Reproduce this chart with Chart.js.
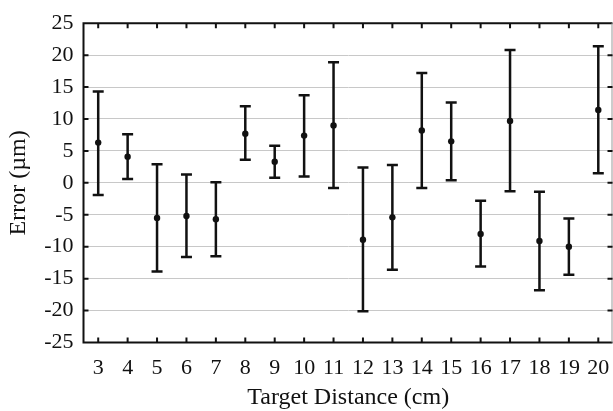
<!DOCTYPE html>
<html>
<head>
<meta charset="utf-8">
<script src="https://cdn.jsdelivr.net/npm/chart.js@4"></script>
<style>
  html, body { margin: 0; padding: 0; background: #fff; overflow: hidden; }
  /* a few px wider than the window: the plot frame runs to the right edge */
  #wrap { width: 617px; height: 411px; }
</style>
</head>
<body>
<div id="wrap"><canvas id="errChart"></canvas></div>
<script>
// Target distance (cm) and measured error (µm): mean with upper / lower limits
const distances = ['3', '4', '5', '6', '7', '8', '9', '10', '11', '12', '13', '14', '15', '16', '17', '18', '19', '20'];
const meanError = [6.3, 4.1, -5.5, -5.2, -5.7, 7.7, 3.3, 7.4, 9.0, -8.9, -5.4, 8.2, 6.5, -8.0, 9.7, -9.1, -10.0, 11.4];
const upperError = [14.3, 7.6, 2.9, 1.3, 0.1, 12.0, 5.8, 13.7, 18.9, 2.4, 2.8, 17.2, 12.6, -2.8, 20.8, -1.4, -5.6, 21.4];
const lowerError = [-1.9, 0.6, -13.9, -11.6, -11.5, 3.6, 0.8, 1.0, -0.8, -20.1, -13.6, -0.8, 0.4, -13.1, -1.3, -16.8, -14.4, 1.5];
const yMin = -25;
const yMax = 25;
const yStep = 5;

const INK = '#111';
const SERIF = '"Liberation Serif", "Times New Roman", serif';
const TICK_FONT = { family: SERIF, size: 22 };
const TITLE_FONT = { family: SERIF, size: 24, lineHeight: 1 };

// whiskers with caps, drawn under the mean points
const errorBars = {
  id: 'errorBars',
  beforeDatasetsDraw(chart) {
    const { ctx, scales: { x, y } } = chart;
    ctx.save();
    ctx.strokeStyle = INK;
    ctx.lineWidth = 2.5;
    ctx.lineCap = 'butt';
    distances.forEach((d, i) => {
      const px = x.getPixelForValue(i);
      const top = y.getPixelForValue(upperError[i]);
      const bot = y.getPixelForValue(lowerError[i]);
      ctx.beginPath();
      ctx.moveTo(px, top);
      ctx.lineTo(px, bot);
      ctx.moveTo(px - 5.5, top);
      ctx.lineTo(px + 5.5, top);
      ctx.moveTo(px - 5.5, bot);
      ctx.lineTo(px + 5.5, bot);
      ctx.stroke();
    });
    ctx.restore();
  }
};

// plot frame with inward tick marks on all four sides
const frame = {
  id: 'frame',
  afterDraw(chart) {
    const { ctx, chartArea: a, scales: { x, y } } = chart;
    const right = a.right - 0.5;
    ctx.save();
    ctx.strokeStyle = INK;
    ctx.lineWidth = 2;
    ctx.beginPath();
    ctx.moveTo(right, a.top);
    ctx.lineTo(a.left, a.top);
    ctx.lineTo(a.left, a.bottom);
    ctx.lineTo(right, a.bottom);
    ctx.stroke();
    ctx.strokeStyle = '#999';
    ctx.lineWidth = 1;
    ctx.beginPath();
    ctx.moveTo(right - 0.5, a.top);
    ctx.lineTo(right - 0.5, a.bottom);
    ctx.stroke();

    ctx.strokeStyle = INK;
    ctx.lineWidth = 2;
    ctx.beginPath();
    distances.forEach((d, i) => {
      const px = x.getPixelForValue(i);
      ctx.moveTo(px, a.top);
      ctx.lineTo(px, a.top + 5);
      ctx.moveTo(px, a.bottom);
      ctx.lineTo(px, a.bottom - 5);
    });
    for (let v = yMin + yStep; v < yMax; v += yStep) {
      const py = y.getPixelForValue(v);
      ctx.moveTo(a.left, py);
      ctx.lineTo(a.left + 5, py);
      ctx.moveTo(right, py);
      ctx.lineTo(right - 5, py);
    }
    ctx.stroke();
    ctx.restore();
  }
};

new Chart(document.getElementById('errChart'), {
  type: 'line',
  data: {
    labels: distances,
    datasets: [{
      data: meanError,
      showLine: false,
      pointRadius: 3.2,
      pointBackgroundColor: INK,
      pointBorderColor: INK,
      pointBorderWidth: 0
    }]
  },
  options: {
    responsive: true,
    maintainAspectRatio: false,
    animation: false,
    layout: { padding: { top: 14.5, right: 0, bottom: 0, left: 0 } },
    plugins: {
      legend: { display: false },
      tooltip: { enabled: false }
    },
    scales: {
      x: {
        type: 'category',
        offset: true,
        grid: { display: false, drawTicks: false },
        border: { display: false },
        ticks: { color: INK, font: TICK_FONT, padding: 13, maxRotation: 0, autoSkip: false },
        title: { display: true, text: 'Target Distance (cm)', color: INK, font: TITLE_FONT, padding: { top: 0, bottom: 1.3 } },
        afterFit(scale) {
          scale.height = 68.5;
          scale.paddingLeft = 0;
          scale.paddingRight = 0;
        }
      },
      y: {
        min: yMin,
        max: yMax,
        grid: { color: '#c8c8c8', lineWidth: 1, drawTicks: false },
        border: { display: false },
        ticks: { stepSize: yStep, color: INK, font: TICK_FONT, padding: 10 },
        title: { display: true, text: 'Error (µm)', color: INK, font: TITLE_FONT, padding: { top: 7, bottom: 0 } },
        afterFit(scale) { scale.width = 83.5; }
      }
    }
  },
  plugins: [errorBars, frame]
});
</script>
</body>
</html>
